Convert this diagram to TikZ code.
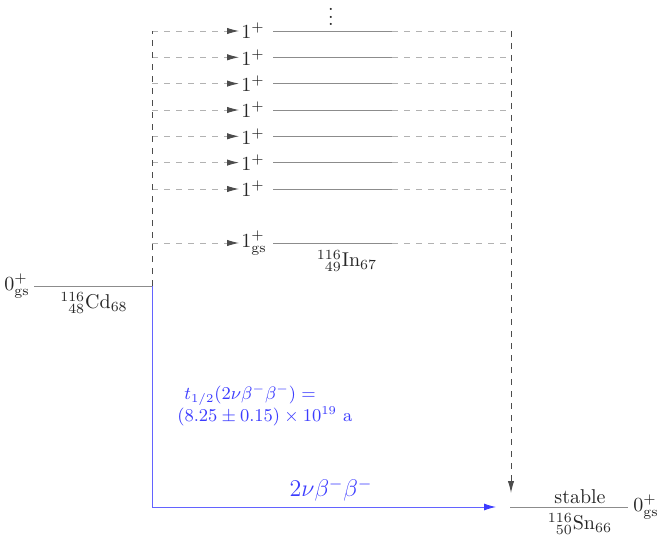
\documentclass[tikz,border=0pt]{standalone}
\usetikzlibrary{arrows.meta}
\definecolor{lvl}{gray}{0.55}
\definecolor{dsh}{gray}{0.7}
\definecolor{vdsh}{gray}{0.3}
\definecolor{bl}{RGB}{60,60,255}
\tikzset{
  level/.style={draw=lvl, line width=0.45pt},
  feed/.style={draw=dsh, dashed, line width=0.45pt},
  tip/.style={-{Latex[length=6pt,width=3.2pt]}},
  feedarrow/.style={feed, tip, arrows={[color=vdsh]}},
  vfeed/.style={draw=vdsh, dashed, line width=0.5pt},
  lab/.style={inner sep=1pt, text=black!85},
  decay/.style={draw=bl!80, line width=0.45pt},
}
\begin{document}
\begin{tikzpicture}[x=0.5pt,y=-0.5pt]
\useasboundingbox (0,0) rectangle (664,540);
% Cd
\coordinate (cdL) at (34,286);
\coordinate (cdR) at (152,286);
\draw[level] (cdL) -- (cdR);
\node[lab, anchor=east] (cdJ) at (32,286) {$0^+_{\mathrm{gs}}$};
\node[lab, anchor=north] (cdN) at (94,290) {${}^{116}_{\phantom{1}48}\mathrm{Cd}_{68}$};
% In levels
\foreach \i/\y in {1/31,2/57.3,3/83.6,4/110,5/136.3,6/162.6,7/189}{
  \coordinate (dL\i) at (152,\y);
  \node[lab, anchor=west] (l\i) at (239,\y) {$1^+$};
  \coordinate (sL\i) at (273,\y);
  \coordinate (sR\i) at (392,\y);
  \coordinate (dR\i) at (511,\y);
  \draw[feedarrow] (dL\i) -- (l\i.west);
  \draw[level] (sL\i) -- (sR\i);
  \draw[feed] (sR\i) -- (dR\i);
}
\coordinate (dL8) at (152,243);
\node[lab, anchor=west] (l8) at (239,243) {$1^+_{\mathrm{gs}}$};
\coordinate (sL8) at (273,243);
\coordinate (sR8) at (392,243);
\coordinate (dR8) at (511,243);
\draw[feedarrow] (dL8) -- (l8.west);
\draw[level] (sL8) -- (sR8);
\draw[feed] (sR8) -- (dR8);
\node[lab] (inN) at (347,261) {${}^{116}_{\phantom{1}49}\mathrm{In}_{67}$};
\node[lab, inner sep=0pt] (dots) at (331,17) {\baselineskip3.6pt\lineskiplimit0pt\vbox{\hbox{.}\hbox{.}\hbox{.}}};
% vertical feeders
\draw[vfeed] (cdR) -- (dL1);
\coordinate (snTop) at (511,493);
\draw[vfeed, tip] (dR1) -- (snTop);
% Sn
\coordinate (snL) at (510,507);
\coordinate (snR) at (628,507);
\draw[level] (snL) -- (snR);
\node[lab, anchor=west] (snJ) at (631,507) {$0^+_{\mathrm{gs}}$};
\node[lab, anchor=base] (stab) at (580,503) {stable};
\node[lab, anchor=north] (snN) at (580,511) {${}^{116}_{\phantom{1}50}\mathrm{Sn}_{66}$};
% 2nu beta beta decay
\coordinate (bbC) at (152,507);
\coordinate (bbE) at (496,507);
\draw[decay, -{Latex[length=6pt,width=3.5pt]}, arrows={[color=bl]}] (cdR) -- (bbC) -- (bbE);
\node[text=bl, font=\large, inner sep=1pt] (bbL) at (331,490) {$2\nu\beta^-\beta^-$};
\node[text=bl, font=\small, anchor=north west, align=left, inner sep=0pt] (thalf) at (177,384)
  {\hspace*{3.5pt}$t_{1/2}(2\nu\beta^-\beta^-)=$\\$(8.25\pm0.15)\times10^{19}$ a};
\end{tikzpicture}
\end{document}
